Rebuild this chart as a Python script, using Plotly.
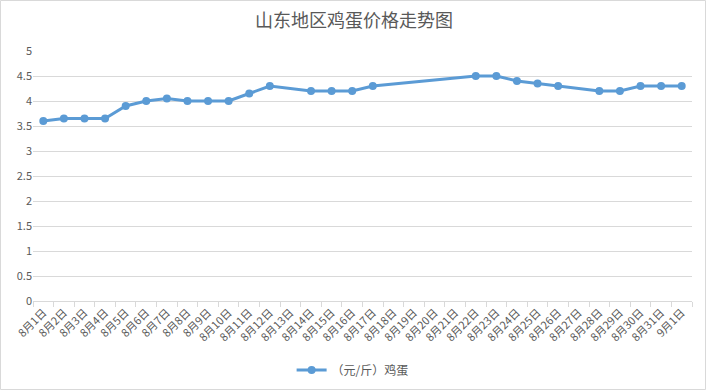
import plotly.graph_objects as go

dates = ["8月1日", "8月2日", "8月3日", "8月4日", "8月5日", "8月6日", "8月7日", "8月8日",
         "8月9日", "8月10日", "8月11日", "8月12日", "8月13日", "8月14日", "8月15日", "8月16日",
         "8月17日", "8月18日", "8月19日", "8月20日", "8月21日", "8月22日", "8月23日", "8月24日",
         "8月25日", "8月26日", "8月27日", "8月28日", "8月29日", "8月30日", "8月31日", "9月1日"]
prices = [3.6, 3.65, 3.65, 3.65, 3.9, 4.0, 4.05, 4.0,
          4.0, 4.0, 4.15, 4.3, None, 4.2, 4.2, 4.2,
          4.3, None, None, None, None, 4.5, 4.5, 4.4,
          4.35, 4.3, None, 4.2, 4.2, 4.3, 4.3, 4.3]
y_ticks = [0, 0.5, 1, 1.5, 2, 2.5, 3, 3.5, 4, 4.5, 5]

FONT = "Noto Sans CJK SC, Microsoft YaHei, sans-serif"
GRAY = "#595959"

fig = go.Figure()
fig.add_trace(go.Scatter(
    x=dates, y=prices, name="（元/斤）鸡蛋",
    mode="lines+markers", connectgaps=True,
    line=dict(color="#5B9BD5", width=3),
    marker=dict(color="#5B9BD5", size=8),
))

W, H = 708, 391
ml, mr, mt, mb = 33, 16, 51, 90
pw, ph = W - ml - mr, H - mt - mb

fig.update_layout(
    width=W, height=H,
    margin=dict(l=ml, r=mr, t=mt, b=mb, autoexpand=False),
    paper_bgcolor="white", plot_bgcolor="white",
    font=dict(family=FONT, color=GRAY, size=11),
    title=dict(text="山东地区鸡蛋价格走势图", x=0.5, xref="container", xanchor="center",
               y=1 - 21 / H, yanchor="middle",
               font=dict(size=18, color=GRAY, family=FONT)),
    showlegend=True,
    legend=dict(orientation="h", x=0.485, xanchor="center", y=-(370 - (mt + ph)) / ph, yanchor="middle",
                font=dict(size=12, color=GRAY), bgcolor="rgba(0,0,0,0)"),
    xaxis=dict(type="category", categoryorder="array", categoryarray=dates,
               tickson="boundaries", ticks="outside", ticklen=5, tickcolor="#D9D9D9",
               showline=True, linecolor="#D9D9D9", linewidth=1, automargin=False,
               showgrid=False, tickangle=-45, tickfont=dict(size=11, color=GRAY),
               range=[-0.5, len(dates) - 0.5]),
    yaxis=dict(range=[0, 5], tickvals=y_ticks, ticktext=[f"{v:g}" for v in y_ticks],
               showgrid=True, gridcolor="#D9D9D9", gridwidth=1, zeroline=False, automargin=False,
               showline=False, ticks="", tickfont=dict(size=11, color=GRAY)),
    shapes=[dict(type="rect", xref="paper", yref="paper",
                 x0=(-ml + 0.5) / pw, x1=(pw + mr - 2.5) / pw,
                 y0=(-mb + 1.5) / ph, y1=(ph + mt - 0.5) / ph,
                 line=dict(color="#D9D9D9", width=1), layer="below")],
)

fig.write_html("out.html", config={"displayModeBar": False},
               post_script="document.body.style.margin='0';document.body.style.overflow='hidden';")
